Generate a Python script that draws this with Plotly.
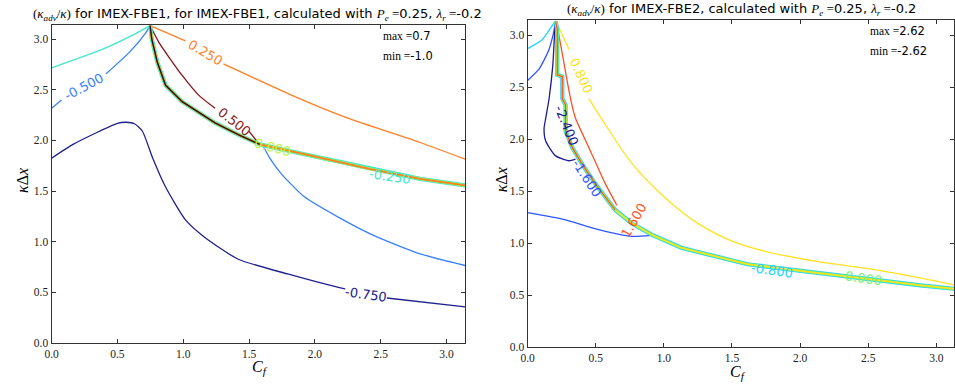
import plotly.graph_objects as go

# ---------------- data ----------------
# Left panel: IMEX-FBE1
L_m075_x = [0, 0.163, 0.364, 0.50, 0.565, 0.63, 0.69, 0.766, 0.866, 1.017, 1.167, 1.418, 1.794, 2.171, 2.23, None, 2.547, 3.1416]
L_m075_y = [1.825, 1.961, 2.091, 2.17, 2.18, 2.165, 2.091, 1.832, 1.54, 1.216, 1.04, 0.827, 0.681, 0.551, 0.535, None, 0.444, 0.356]
L_m050a_x = [0, 0.075, None, 0.414, 0.59, 0.715, 0.748]
L_m050a_y = [2.318, 2.399, None, 2.659, 2.87, 3.064, 3.135]
L_m050b_x = [1.605, 1.66, 1.745, 1.92, 2.17, 2.45, 2.8, 3.1416]
L_m050b_y = [1.95, 1.82, 1.67, 1.443, 1.248, 1.06, 0.88, 0.765]
L_m025_x = [0, 0.389, 0.6, 0.748]
L_m025_y = [2.717, 2.902, 3.03, 3.135]
L_025_x = [0.748, 1.017, None, 1.305, 1.87, 2.25, 2.8, 3.1416]
L_025_y = [3.135, 2.983, None, 2.756, 2.42, 2.22, 1.98, 1.815]
L_050_x = [0.748, 0.816, 0.992, 1.117, 1.242, None, 1.50, 1.57]
L_050_y = [3.135, 2.967, 2.642, 2.448, 2.318, None, 2.09, 1.975]
L_bnd_x = [0.748, 0.761, 0.803, 0.866, 0.992, 1.142, 1.242, 1.418, 1.581, 1.92, 2.169, 2.422, 2.799, 3.1416]
L_bnd_y = [3.135, 3.0, 2.772, 2.545, 2.383, 2.253, 2.173, 2.058, 1.961, 1.864, 1.793, 1.718, 1.621, 1.556]
L_bnd_upper_n = 9  # first points belong to the 0.5 level

# Right panel: IMEX-FBE2
R_m080_x = [0, 0.109, 0.194, 0.206]
R_m080_y = [2.87, 2.958, 3.116, 3.132]
R_m160a_x = [0, 0.085, 0.158, 0.2, 0.206]
R_m160a_y = [2.564, 2.675, 2.864, 3.08, 3.132]
R_m160b_x = [0, 0.279, 0.522, 0.764, 0.91]
R_m160b_y = [1.293, 1.224, 1.13, 1.066, 1.075]
R_m240_x = [0.206, 0.2, 0.185, 0.158, 0.133, 0.121, 0.133, 0.206, 0.303, 0.352]
R_m240_y = [3.132, 3.05, 2.706, 2.39, 2.2, 2.1, 1.981, 1.839, 1.792, 1.807]
R_bnd_x = [0.206, 0.218, 0.218, 0.255, 0.255, 0.279, 0.279, 0.328, 0.4, 0.497, 0.643, 0.764, 0.91, 1.128, 1.37, 1.614, 2.098, 2.584, 2.899, 3.13]
R_bnd_y = [3.132, 3.053, 2.618, 2.599, 2.39, 2.327, 2.076, 1.918, 1.76, 1.57, 1.319, 1.192, 1.082, 0.956, 0.877, 0.798, 0.719, 0.64, 0.593, 0.562]
R_bnd_upper_n = 11
R_160_x = [0.212, 0.231, 0.315, 0.352, 0.45, 0.571, 0.655]
R_160_y = [3.1, 2.99, 2.39, 2.2, 1.918, 1.57, 1.365]
R_080_x = [0.212, 0.304, None, 0.449, 0.595, 0.764, 1.007, 1.25, 1.5, 1.75, 2.1, 2.6, 3.13]
R_080_y = [3.12, 2.864, None, 2.391, 2.09, 1.77, 1.44, 1.19, 1.02, 0.92, 0.83, 0.735, 0.6]

# contour labels: (text, x, y, angle, colour-key)
L_labels = [("0.250", 1.167, 2.873, 31, "o"), ("-0.500", 0.248, 2.532, -28, "b"),
            ("0.500", 1.386, 2.189, 38, "r"), ("0.000", 1.68, 1.93, 15, "g"),
            ("-0.250", 2.567, 1.646, 8, "c"), ("-0.750", 2.385, 0.48, 8, "n")]
R_labels = [("0.800", 0.393, 2.613, 65, "y"), ("-2.400", 0.284, 2.126, 68, "n"),
            ("-1.600", 0.437, 1.623, 57, "b"), ("1.600", 0.779, 1.22, -60, "o"),
            ("-0.800", 1.796, 0.735, 8, "c"), ("0.000", 2.467, 0.66, 8, "g")]

ticks = [0.0, 0.5, 1.0, 1.5, 2.0, 2.5, 3.0]
tick_text = ["0.0", "0.5", "1.0", "1.5", "2.0", "2.5", "3.0"]

# ---------------- styles ----------------
LC = {"n": "#20208f", "b": "#3a80ff", "c": "#40e8cc", "g": "#c2f53a", "o": "#ff7f24", "r": "#8b1414"}
RC = {"n": "#1c1c96", "b": "#2f55ff", "c": "#22d2ff", "g": "#7cf070", "y": "#ffe21e", "o": "#ff4e1e", "r": "#8b0a0a"}
SERIF = "Liberation Serif"
SANS = "DejaVu Sans"
LW = 1.3

fig = go.Figure()

def line(x, y, color, w=LW, ax="", shape="linear", sm=0.6):
    fig.add_trace(go.Scatter(x=x, y=y, mode="lines", xaxis="x" + ax, yaxis="y" + ax,
                             line=dict(color=color, width=w, shape=shape, smoothing=sm),
                             hoverinfo="skip", showlegend=False, connectgaps=False))

# left panel
line(L_m075_x, L_m075_y, LC["n"], shape="spline")
line(L_m050a_x, L_m050a_y, LC["b"], shape="spline")
line(L_m050b_x, L_m050b_y, LC["b"], shape="spline")
line(L_m025_x, L_m025_y, LC["c"], shape="spline")
line(L_025_x, L_025_y, LC["o"], shape="spline")
line(L_050_x, L_050_y, LC["r"], shape="spline")
line(L_bnd_x, L_bnd_y, LC["c"], w=4.2)
line(L_bnd_x, L_bnd_y, "#8cf06a", w=3.0)
line(L_bnd_x, L_bnd_y, LC["o"], w=1.8)
line(L_bnd_x[:L_bnd_upper_n], L_bnd_y[:L_bnd_upper_n], "#3a0a0a", w=1.4)

# right panel
ax2 = "2"
line(R_m080_x, R_m080_y, RC["c"], ax=ax2, shape="spline")
line(R_m160a_x, R_m160a_y, RC["b"], ax=ax2, shape="spline")
line(R_m160b_x, R_m160b_y, RC["b"], ax=ax2, shape="spline")
line(R_m240_x, R_m240_y, RC["n"], ax=ax2, shape="spline")
line(R_160_x, R_160_y, RC["o"], ax=ax2, shape="spline")
line(R_080_x, R_080_y, RC["y"], ax=ax2, shape="spline", sm=1.1)
line(R_bnd_x, R_bnd_y, RC["c"], w=4.2, ax=ax2)
line(R_bnd_x, R_bnd_y, RC["g"], w=2.8, ax=ax2)
line(R_bnd_x, R_bnd_y, RC["y"], w=1.4, ax=ax2)
line(R_bnd_x[:R_bnd_upper_n], R_bnd_y[:R_bnd_upper_n], RC["o"], w=1.2, ax=ax2)

annotations = []
for t, x, y, a, k in L_labels:
    annotations.append(dict(text=t, x=x, y=y, xref="x", yref="y", showarrow=False, textangle=a,
                            xanchor="center", yanchor="middle",
                            font=dict(family=SANS, size=13, color=LC[k])))
for t, x, y, a, k in R_labels:
    annotations.append(dict(text=t, x=x, y=y, xref="x2", yref="y2", showarrow=False, textangle=a,
                            xanchor="center", yanchor="middle",
                            font=dict(family=SANS, size=13, color=RC[k])))

def m(s):
    return '<span style="font-family:%s">%s</span>' % (SERIF, s)

kadv = m("(<i>κ<sub>adv</sub></i>/<i>κ</i>)")
pe = m("<i>P<sub>e</sub></i> =")
lr = m("<i>λ<sub>r</sub></i> =")
title_font = dict(family=SANS, size=13, color="#000")
annotations.append(dict(text=kadv + " for IMEX-FBE1, for IMEX-FBE1, calculated with " + pe + "0.25, " + lr + "-0.2",
                        x=0.265, y=0.962, xref="paper", yref="paper", showarrow=False, font=title_font,
                        xanchor="center", yanchor="middle"))
annotations.append(dict(text=kadv + " for IMEX-FBE2, calculated with " + pe + "0.25, " + lr + "-0.2",
                        x=0.776, y=0.974, xref="paper", yref="paper", showarrow=False, font=title_font,
                        xanchor="center", yanchor="middle"))

info_font = dict(family=SANS, size=11.5, color="#000")
for txt, x, y in [(m("max =") + "0.7", 0.3945, 0.906), (m("min =") + "-1.0", 0.3945, 0.854),
                  (m("max =") + "2.62", 0.909, 0.919), (m("min =") + "-2.62", 0.909, 0.866)]:
    annotations.append(dict(text=txt, x=x, y=y, xref="paper", yref="paper", showarrow=False,
                            xanchor="left", yanchor="middle", font=info_font))

# axis titles
lab_font = dict(family=SERIF, size=16, color="#000")
for txt, x, y, a in [("<i>C<sub>f</sub></i>", 0.267, 0.040, 0),
                     ("<i>C<sub>f</sub></i>", 0.772, 0.028, 0),
                     ("<i>κ</i>Δ<i>x</i>", 0.0157, 0.53, -90),
                     ("<i>κ</i>Δ<i>x</i>", 0.522, 0.53, -90)]:
    annotations.append(dict(text=txt, x=x, y=y, xref="paper", yref="paper", showarrow=False,
                            textangle=a, xanchor="center", yanchor="middle", font=lab_font))

def axis(domain, rng, anchor):
    return dict(domain=domain, range=rng, anchor=anchor, tickvals=ticks, ticktext=tick_text,
                ticks="inside", ticklen=4, tickcolor="#333", tickwidth=1,
                showline=True, linecolor="#333", linewidth=1.2, mirror="ticks",
                showgrid=False, zeroline=False,
                tickfont=dict(family="Liberation Serif, serif", size=11.5, color="#222"))

fig.update_layout(
    width=955, height=389, margin=dict(l=0, r=0, t=0, b=0),
    paper_bgcolor="white", plot_bgcolor="white", showlegend=False,
    xaxis=axis([0.0471, 0.4838], [0, 3.1416], "y"),
    yaxis=axis([0.1046, 0.935], [0, 3.1416], "x"),
    xaxis2=axis([0.5497, 1.0], [0, 3.129], "y2"),
    yaxis2=axis([0.0933, 0.947], [0, 3.1416], "x2"),
    annotations=annotations,
)

fig.write_html("out.html", config={"displayModeBar": False})
